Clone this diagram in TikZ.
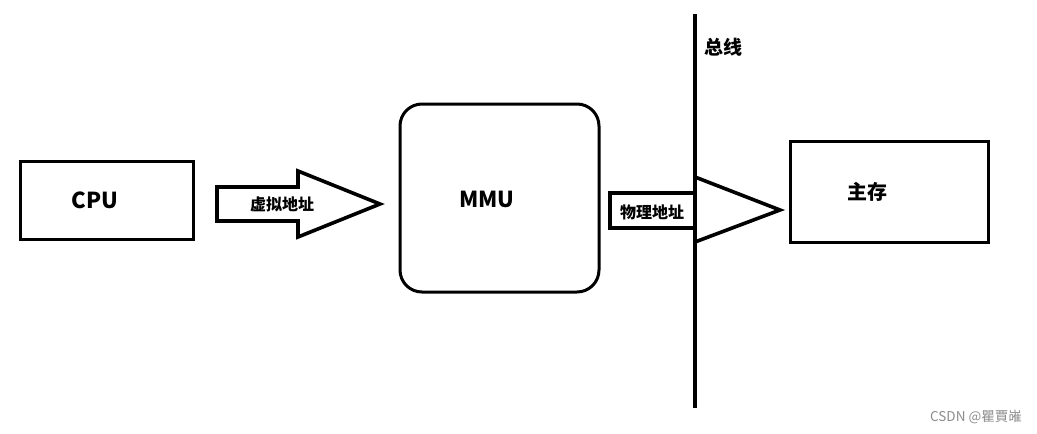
\documentclass[tikz,border=0pt]{standalone}
\usepackage{fontspec}
\newfontfamily\cjk{Noto Sans CJK SC}
\tikzset{
  box/.style={draw=black,line width=3pt},
  blockarrow/.style={draw=black,line width=3.6pt,line join=miter,fill=white},
  lbl/.style={font=\cjk\bfseries\fontsize{22}{22}\selectfont,inner sep=0pt},
  cjklbl/.style={font=\cjk\bfseries\fontsize{#1}{#1}\selectfont,inner sep=0pt},
}
\begin{document}
\begin{tikzpicture}[x=1pt,y=-1pt]
\useasboundingbox (0,0) rectangle (1037,434);
% CPU box
\draw[box] (20,161) rectangle (193,239);
\node[lbl] (cpu) at (95,200) {CPU};
% virtual address arrow
\draw[blockarrow] (217,187) -- (298,187) -- (298,171) -- (380,204) -- (298,237) -- (298,221) -- (217,221) -- cycle;
\node[cjklbl=16] (va) at (282,204) {虚拟地址};
% MMU
\draw[box,rounded corners=22pt] (400,104) rectangle (599,292);
\node[lbl] (mmu) at (487,199) {MMU};
% physical address shaft
\draw[blockarrow] (610,193) rectangle (695,228);
\node[cjklbl=16] (pa) at (652,212) {物理地址};
% head triangle
\draw[blockarrow] (695,177) -- (780,210) -- (695,242) -- cycle;
% bus
\coordinate (bustop) at (695,14);
\coordinate (busbot) at (695,408);
\draw[line width=4pt] (bustop) -- (busbot);
\node[cjklbl=19] (bus) at (723,47) {总线};
% main memory
\draw[box] (790,141) rectangle (988,242);
\node[cjklbl=20] (mem) at (867,192) {主存};
% watermark
\node[font=\cjk\fontsize{13.5}{13.5}\selectfont,text=black!45,inner sep=0pt] (wm) at (976,417) {CSDN @瞿賈嶉};
\end{tikzpicture}
\end{document}
